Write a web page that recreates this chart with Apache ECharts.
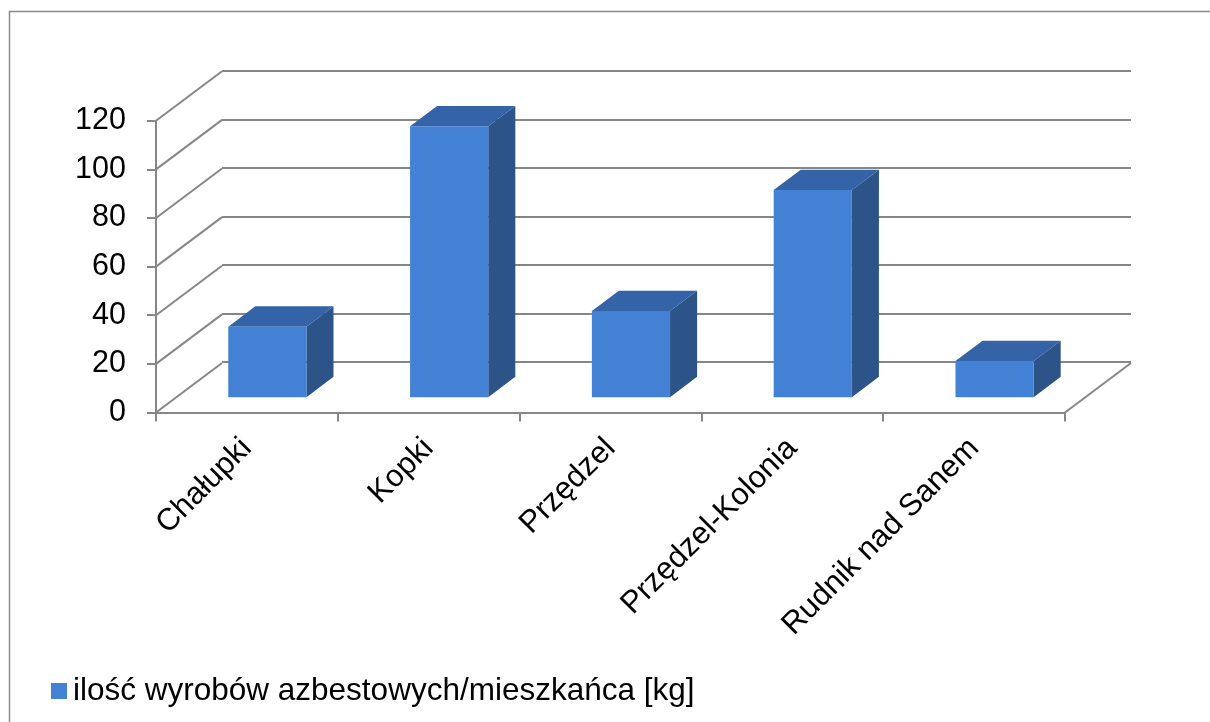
<!DOCTYPE html>
<html><head><meta charset="utf-8">
<script src="https://cdn.jsdelivr.net/npm/echarts@6/dist/echarts.min.js"></script>
<style>html,body{margin:0;padding:0;background:#fff}#c{width:1210px;height:722px}</style>
</head><body><div id="c"></div>
<script>
// ---- data ----
const categories = ['Chałupki', 'Kopki', 'Przędzel', 'Przędzel-Kolonia', 'Rudnik nad Sanem'];
const values = [29, 111.4, 35.4, 85.2, 14.9];
const seriesName = 'ilość wyrobów azbestowych/mieszkańca [kg]';
const yMin = 0, yMax = 120, yStep = 20;
const yTicks = [0, 20, 40, 60, 80, 100, 120];

// ---- style / projection ----
const DX = 66, DY = -49.5;          // depth offset of the 3D box
const FRONT = 0.31, DEPTH = 0.41, BARW = 0.43;
const C_FRONT = '#4281D4', C_TOP = '#3463A8', C_SIDE = '#2C5489';
const GRID_C = '#878787';
const FONT = 'Liberation Sans, Arial, sans-serif';

const chart = echarts.init(document.getElementById('c'), null, {renderer: 'canvas'});

function renderWalls(params, api) {
  const cs = params.coordSys;
  const ch = [];
  yTicks.forEach(t => {
    const y = api.coord([0, t])[1];
    ch.push({type: 'line', shape: {x1: cs.x, y1: y, x2: cs.x + DX, y2: y + DY},
      style: {stroke: GRID_C, lineWidth: 2}});
  });
  const y0 = api.coord([0, yMin])[1];
  ch.push({type: 'line', shape: {x1: cs.x + cs.width, y1: y0, x2: cs.x + cs.width + DX, y2: y0 + DY},
    style: {stroke: GRID_C, lineWidth: 2}});
  return {type: 'group', children: ch};
}

function renderBar(params, api) {
  const i = api.value(0), v = api.value(1);
  const base = api.coord([i, 0]), top = api.coord([i, v]);
  const bw = api.size([1, 0])[0] * BARW;
  const sx = FRONT * DX, sy = FRONT * DY, dx = DEPTH * DX, dy = DEPTH * DY;
  const x0 = base[0] - bw / 2 + sx, x1 = base[0] + bw / 2 + sx;
  const yb = base[1] + sy, yt = top[1] + sy;
  return {type: 'group', children: [
    {type: 'polygon', shape: {points: [[x1, yt], [x1 + dx, yt + dy], [x1 + dx, yb + dy], [x1, yb]]}, style: {fill: C_SIDE}},
    {type: 'polygon', shape: {points: [[x0, yt], [x1, yt], [x1 + dx, yt + dy], [x0 + dx, yt + dy]]}, style: {fill: C_TOP}},
    {type: 'rect', shape: {x: x0, y: yt, width: x1 - x0, height: yb - yt}, style: {fill: C_FRONT}}
  ]};
}

const option = {
  animation: false,
  backgroundColor: '#fff',
  textStyle: {fontFamily: FONT},
  graphic: [{
    type: 'polyline', silent: true,
    shape: {points: [[9.5, 722], [9.5, 11.5], [1210, 11.5]]},
    style: {stroke: '#8a8a8a', lineWidth: 1.5, fill: null}
  }],
  legend: {
    data: [seriesName], left: 46, top: 670, icon: 'rect', itemWidth: 16, itemHeight: 16,
    textStyle: {fontSize: 31.5, color: '#000', fontFamily: FONT, padding: [0, 0, 0, 1]}
  },
  grid: [
    {left: 156, right: 145, top: 120.7, bottom: 309.5},
    {left: 222, right: 79, top: 71.2, bottom: 360}
  ],
  xAxis: [
    {type: 'category', gridIndex: 0, data: categories, boundaryGap: true,
      axisLine: {lineStyle: {color: GRID_C, width: 2}},
      axisTick: {show: true, length: 9, lineStyle: {color: GRID_C, width: 2}},
      axisLabel: {rotate: 45, margin: 31, fontSize: 31, color: '#000', fontFamily: FONT, interval: 0}},
    {type: 'category', gridIndex: 1, data: categories, show: false}
  ],
  yAxis: [
    {type: 'value', gridIndex: 0, min: yMin, max: yMax, interval: yStep,
      axisLine: {show: true, lineStyle: {color: GRID_C, width: 2}},
      axisTick: {show: true, length: 9, lineStyle: {color: GRID_C, width: 2}},
      splitLine: {show: false},
      axisLabel: {fontSize: 30.5, color: '#000', margin: 30, fontFamily: FONT}},
    {type: 'value', gridIndex: 1, min: yMin, max: yMax, interval: yStep,
      axisLine: {show: false}, axisTick: {show: false}, axisLabel: {show: false},
      splitLine: {show: true, lineStyle: {color: GRID_C, width: 2}}}
  ],
  series: [
    {type: 'custom', name: 'walls', xAxisIndex: 0, yAxisIndex: 0, renderItem: renderWalls,
      data: [[0, 0]], silent: true, z: 1},
    {type: 'custom', name: seriesName, xAxisIndex: 0, yAxisIndex: 0, renderItem: renderBar,
      itemStyle: {color: C_FRONT}, data: values.map((v, i) => [i, v]), z: 3}
  ]
};
chart.setOption(option);
</script>
</body></html>
